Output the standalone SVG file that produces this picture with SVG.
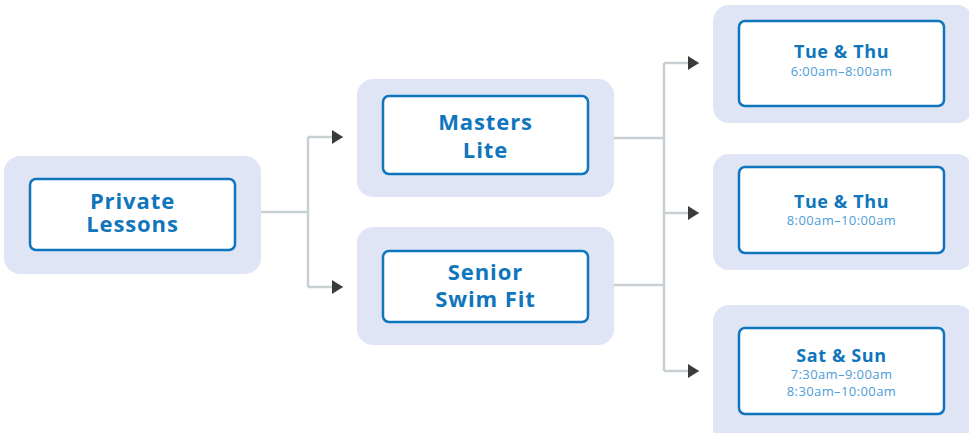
<svg xmlns="http://www.w3.org/2000/svg" width="969" height="433" viewBox="0 0 969 433">
<defs>
<style>
.outer{fill:#dfe5f4}
.inner{fill:#ffffff;stroke:#0f75bc;stroke-width:2.5}
.t{font-family:"Open Sans","Liberation Sans",sans-serif;font-weight:700;fill:#0f75bc;text-anchor:middle}
.big{font-size:22px;letter-spacing:0.9px}
.mid{font-size:18px;letter-spacing:0.6px}
.sub{font-family:"Open Sans","Liberation Sans",sans-serif;font-weight:400;font-size:13px;letter-spacing:0.4px;fill:#4d9dd8;text-anchor:middle}
.line{fill:none;stroke:#c6d0d2;stroke-width:2.5}
</style>
<marker id="arr" viewBox="0 0 11 14" refX="11" refY="7" markerWidth="11" markerHeight="14" markerUnits="userSpaceOnUse" orient="auto">
<path d="M0,0 L11,7 L0,14 Z" fill="#3b3b3b"/>
</marker>
</defs>
<g id="connectors">
<path class="line" d="M261,212 H308"/>
<path class="line" d="M308,137 V287"/>
<path class="line" d="M308,137 H343" marker-end="url(#arr)"/>
<path class="line" d="M308,287 H343" marker-end="url(#arr)"/>
<path class="line" d="M614,138 H664"/>
<path class="line" d="M614,285 H664"/>
<path class="line" d="M664,63 V371"/>
<path class="line" d="M664,63 H699" marker-end="url(#arr)"/>
<path class="line" d="M664,213 H699" marker-end="url(#arr)"/>
<path class="line" d="M664,371 H699" marker-end="url(#arr)"/>
</g>
<g id="private-lessons">
<rect class="outer" x="4" y="156" width="257" height="118" rx="16"/>
<rect class="inner" x="30" y="179" width="205" height="71" rx="6"/>
<text class="t big" x="132.5" y="209">Private</text>
<text class="t big" x="132.5" y="232">Lessons</text>
</g>
<g id="masters-lite">
<rect class="outer" x="357" y="79" width="257" height="118" rx="16"/>
<rect class="inner" x="383" y="96" width="205" height="78" rx="6"/>
<text class="t big" x="485.5" y="130">Masters</text>
<text class="t big" x="485.5" y="158">Lite</text>
</g>
<g id="senior-swim-fit">
<rect class="outer" x="357" y="227" width="257" height="118" rx="16"/>
<rect class="inner" x="383" y="251" width="205" height="71" rx="6"/>
<text class="t big" x="485.5" y="280">Senior</text>
<text class="t big" x="485.5" y="307">Swim Fit</text>
</g>
<g id="tue-thu-early">
<rect class="outer" x="713" y="5" width="260" height="118" rx="16"/>
<rect class="inner" x="739" y="21" width="205" height="85" rx="6"/>
<text class="t mid" x="841.5" y="58">Tue &amp; Thu</text>
<text class="sub" x="841.5" y="76">6:00am–8:00am</text>
</g>
<g id="tue-thu-late">
<rect class="outer" x="713" y="154" width="260" height="116" rx="16"/>
<rect class="inner" x="739" y="167" width="205" height="86" rx="6"/>
<text class="t mid" x="841.5" y="208">Tue &amp; Thu</text>
<text class="sub" x="841.5" y="225">8:00am–10:00am</text>
</g>
<g id="sat-sun">
<rect class="outer" x="713" y="305" width="260" height="140" rx="16"/>
<rect class="inner" x="739" y="328" width="205" height="86" rx="6"/>
<text class="t mid" x="841.5" y="362">Sat &amp; Sun</text>
<text class="sub" x="841.5" y="379">7:30am–9:00am</text>
<text class="sub" x="841.5" y="396">8:30am–10:00am</text>
</g>
</svg>
